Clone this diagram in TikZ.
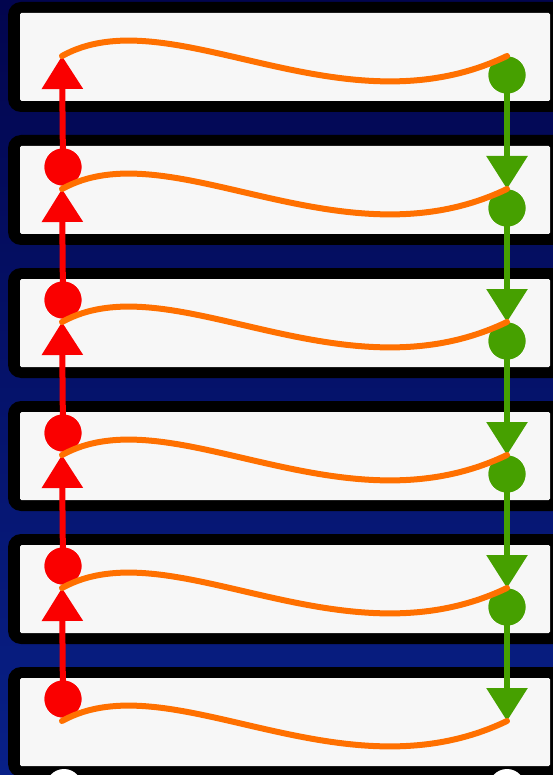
\documentclass[tikz,border=0pt]{standalone}
\usetikzlibrary{arrows.meta,calc}
\definecolor{navytop}{RGB}{2,5,78}
\definecolor{navybot}{RGB}{8,32,135}
\definecolor{boxfill}{RGB}{247,247,247}
\definecolor{redc}{RGB}{250,0,0}
\definecolor{greenc}{RGB}{70,160,0}
\definecolor{orangec}{RGB}{255,112,0}
\tikzset{
 panel/.style={fill=black, rounded corners=13pt},
 panelin/.style={fill=boxfill, rounded corners=1.5pt},
 wave/.style={draw=orangec, line width=6pt, line cap=round},
 upline/.style={draw=redc, line width=6pt, -{Triangle[length=33pt,width=40pt]}},
 downline/.style={draw=greenc, line width=6pt, -{Triangle[length=33pt,width=40pt]}},
 reddot/.style={circle, fill=redc, inner sep=0pt, minimum size=37pt},
 greendot/.style={circle, fill=greenc, inner sep=0pt, minimum size=37pt},
 whitedot/.style={circle, fill=white, inner sep=0pt, minimum size=36pt},
}
\begin{document}
\begin{tikzpicture}[x=1pt,y=-1pt]
\useasboundingbox (0,0) rectangle (553,775);
\clip (0,0) rectangle (553,775);
\shade[top color=navytop, bottom color=navybot] (0,0) rectangle (553,775);
\foreach \k in {0,...,5}{
  \pgfmathsetmacro\yo{133*\k}
  \fill[panel] (8,2+\yo) rectangle (566,112+\yo);
  \fill[panelin] (20,13+\yo) rectangle (550,101+\yo);
  \coordinate (os\k) at (62,56+\yo);
  \coordinate (oe\k) at (507,56+\yo);
}
\foreach \k in {1,...,5}{
  \node[reddot] (rd\k) at (63,34+133*\k) {};
}
\foreach \k in {0,...,4}{
  \node[greendot] (gd\k) at (507,75+133*\k) {};
}
\node[whitedot] (wl) at (64,787) {};
\node[whitedot] (wr) at (507,787) {};
% red upward arrows
\foreach \k/\j in {1/0,2/1,3/2,4/3,5/4}{
  \draw[upline] (rd\k.center) -- (os\j);
}
% green downward arrows
\foreach \k/\j in {0/1,1/2,2/3,3/4,4/5}{
  \draw[downline] (gd\k.center) -- (oe\j);
}
% redraw dots over lines
\foreach \k in {1,...,5}{
  \fill[redc] (rd\k) circle (18.5pt);
}
\foreach \k in {0,...,4}{
  \fill[greenc] (gd\k) circle (18.5pt);
}
% orange waves
\foreach \k in {0,...,5}{
  \draw[wave] (os\k) .. controls ($(os\k)+(108,-60)$) and ($(oe\k)+(-167,80)$) .. (oe\k);
}
\end{tikzpicture}
\end{document}
